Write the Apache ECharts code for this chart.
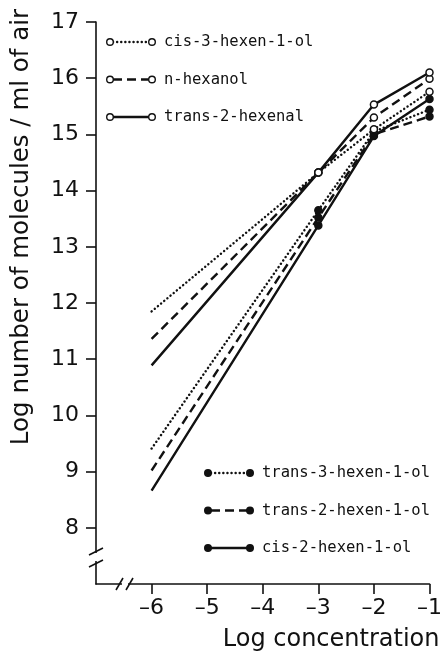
<!DOCTYPE html>
<html>
<head>
<meta charset="utf-8">
<script src="https://cdn.jsdelivr.net/npm/echarts@6/dist/echarts.min.js"></script>
<style>
  html, body { margin: 0; padding: 0; background: #fff; }
  #chart { width: 445px; height: 655px; }
</style>
</head>
<body>
<div id="chart"></div>
<script>
// Log concentration of the odour solution (x) vs. log number of molecules per ml of air (y)
const logConc = [-6, -3, -2, -1];

// open-circle group
const cis3Hexen1ol   = [11.85, 14.32, 15.09, 15.76];
const nHexanol       = [11.36, 14.32, 15.30, 15.99];
const trans2Hexenal  = [10.89, 14.32, 15.53, 16.10];

// filled-circle group
const trans3Hexen1ol = [9.41, 13.65, 15.05, 15.44];
const trans2Hexen1ol = [9.02, 13.52, 15.00, 15.32];
const cis2Hexen1ol   = [8.66, 13.38, 14.97, 15.63];

const yTickValues = [8, 9, 10, 11, 12, 13, 14, 15, 16, 17];
const xTickValues = [-6, -5, -4, -3, -2, -1];

const yAxisTitle = 'Log number of molecules / ml of air';
const xAxisTitle = 'Log concentration';

const FONT = 'DejaVu Sans';
const LEGEND_FONT = 'DejaVu Sans Mono';
const INK = '#111';

const lineKinds = {
  dotted: { type: [0.1, 4.0], cap: 'round' },
  dashed: { type: [9, 5], cap: 'butt' },
  solid:  { type: 'solid', cap: 'butt' }
};

const seriesDefs = [
  { name: 'cis-3-hexen-1-ol',   values: cis3Hexen1ol,   kind: 'dotted', filled: false, legend: 0 },
  { name: 'n-hexanol',          values: nHexanol,       kind: 'dashed', filled: false, legend: 0 },
  { name: 'trans-2-hexenal',    values: trans2Hexenal,  kind: 'solid',  filled: false, legend: 0 },
  { name: 'trans-3-hexen-1-ol', values: trans3Hexen1ol, kind: 'dotted', filled: true,  legend: 1 },
  { name: 'trans-2-hexen-1-ol', values: trans2Hexen1ol, kind: 'dashed', filled: true,  legend: 1 },
  { name: 'cis-2-hexen-1-ol',   values: cis2Hexen1ol,   kind: 'solid',  filled: true,  legend: 1 }
];

const LINE_W = 2.4;

const series = seriesDefs.map(function (d) {
  const k = lineKinds[d.kind];
  return {
    name: d.name,
    type: 'line',
    z: d.filled ? 3 : 4,
    data: logConc.map(function (x, i) {
      // the extrapolated end at the lowest concentration carries no marker
      return i === 0 ? { value: [x, d.values[i]], symbol: 'none' } : [x, d.values[i]];
    }),
    symbol: 'circle',
    symbolSize: 7,
    showSymbol: true,
    animation: false,
    lineStyle: { color: INK, width: LINE_W, type: k.type, cap: k.cap },
    itemStyle: {
      color: d.filled ? INK : '#fff',
      borderColor: INK,
      borderWidth: 1.5
    },
    emphasis: { disabled: true }
  };
});

const chart = echarts.init(document.getElementById('chart'), null, { renderer: 'canvas' });

function minusLabel(v) {
  return v < 0 ? '\u2013' + Math.abs(v) : String(v);
}

const option = {
  backgroundColor: '#fff',
  animation: false,
  grid: { left: 96, right: 10, top: 22, bottom: 71, containLabel: false },
  xAxis: {
    type: 'value',
    min: -7,
    max: -1,
    interval: 1,
    axisLine: { show: true, onZero: false, lineStyle: { color: INK, width: 1.6 } },
    axisTick: { show: true, customValues: xTickValues, length: 10, lineStyle: { color: INK, width: 1.6 } },
    axisLabel: {
      customValues: xTickValues,
      margin: 13,
      fontFamily: FONT,
      fontSize: 22,
      color: INK,
      formatter: minusLabel
    },
    splitLine: { show: false }
  },
  yAxis: {
    type: 'value',
    min: 7,
    max: 17,
    interval: 1,
    axisLine: { show: true, onZero: false, lineStyle: { color: INK, width: 1.6 } },
    axisTick: { show: true, customValues: yTickValues, length: 10, lineStyle: { color: INK, width: 1.6 } },
    axisLabel: {
      customValues: yTickValues,
      margin: 17,
      fontFamily: FONT,
      fontSize: 22,
      color: INK
    },
    splitLine: { show: false }
  },
  series: series
};

chart.setOption(option);

// ---- decorations: axis titles, hand-made legends, axis breaks ----
function buildGraphics() {
  const corner = chart.convertToPixel({ gridIndex: 0 }, [-7, 7]);
  const top = chart.convertToPixel({ gridIndex: 0 }, [-1, 17]);
  const cx = corner[0], cy = corner[1];
  const els = [];

  // axis titles
  els.push({
    type: 'text',
    x: 22, y: 227,
    rotation: Math.PI / 2,
    style: {
      text: yAxisTitle, fill: INK, font: '24.5px "' + FONT + '"',
      align: 'center', verticalAlign: 'middle'
    }
  });
  els.push({
    type: 'text',
    x: top[0] + 10, y: cy + 56,
    style: {
      text: xAxisTitle, fill: INK, font: '24px "' + FONT + '"',
      align: 'right', verticalAlign: 'middle'
    }
  });

  // legends: one at the top-left, one at the bottom-right
  const legendAnchors = [
    { x: cx + 14, y: top[1] + 20 },
    { x: cx + 112, y: cy - 111 }
  ];
  const rowGap = 37.5;
  const sampleW = 42;
  [0, 1].forEach(function (g) {
    const items = seriesDefs.filter(function (d) { return d.legend === g; });
    items.forEach(function (d, i) {
      const a = legendAnchors[g];
      const y = a.y + i * rowGap;
      const k = lineKinds[d.kind];
      els.push({
        type: 'line',
        shape: { x1: a.x + 3, y1: y, x2: a.x + sampleW - 3, y2: y },
        style: {
          stroke: INK, lineWidth: LINE_W,
          lineDash: k.type === 'solid' ? null : k.type,
          lineCap: k.cap
        },
        z: 10
      });
      [a.x, a.x + sampleW].forEach(function (px) {
        els.push({
          type: 'circle',
          shape: { cx: px, cy: y, r: 3.3 },
          style: { fill: d.filled ? INK : '#fff', stroke: INK, lineWidth: 1.4 },
          z: 11
        });
      });
      els.push({
        type: 'text',
        x: a.x + sampleW + 12, y: y,
        style: {
          text: d.name, fill: INK, font: '15.5px "' + LEGEND_FONT + '"',
          align: 'left', verticalAlign: 'middle'
        },
        z: 11
      });
    });
  });

  // axis breaks (double slashes with a gap in the axis line)
  const yb1 = cy - 33, yb2 = cy - 21;
  els.push({ type: 'rect', shape: { x: cx - 3, y: yb1 + 2, width: 6, height: yb2 - yb1 - 4 }, style: { fill: '#fff' }, z: 20 });
  [yb1, yb2].forEach(function (yy) {
    els.push({ type: 'line', shape: { x1: cx - 7, y1: yy + 4, x2: cx + 7, y2: yy - 3 }, style: { stroke: INK, lineWidth: 1.6 }, z: 21 });
  });
  const xb1 = cx + 24, xb2 = cx + 34;
  els.push({ type: 'rect', shape: { x: xb1 + 2, y: cy - 3, width: xb2 - xb1 - 4, height: 6 }, style: { fill: '#fff' }, z: 20 });
  [xb1, xb2].forEach(function (xx) {
    els.push({ type: 'line', shape: { x1: xx - 4, y1: cy + 6, x2: xx + 3, y2: cy - 6 }, style: { stroke: INK, lineWidth: 1.6 }, z: 21 });
  });

  chart.setOption({ graphic: { elements: els } });
}

buildGraphics();
</script>
</body>
</html>
